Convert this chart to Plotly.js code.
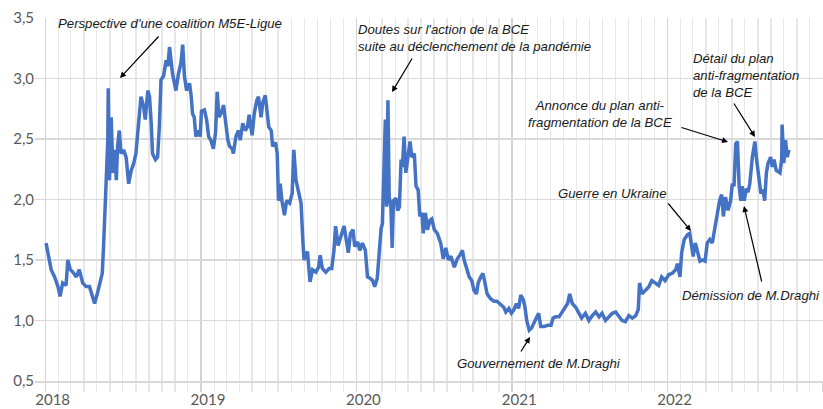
<!DOCTYPE html>
<html>
<head>
<meta charset="utf-8">
<script src="https://cdn.plot.ly/plotly-3.0.1.min.js"></script>
<style>html,body{margin:0;padding:0;background:#fff}#chart{width:823px;height:409px}</style>
</head>
<body>
<div id="chart"></div>
<script>
// Spread values (points de %)
const dates = [
"2018-01-02","2018-01-06","2018-01-14","2018-01-22","2018-01-30","2018-02-04","2018-02-10","2018-02-18","2018-02-22","2018-02-28",
"2018-03-06","2018-03-14","2018-03-21","2018-03-29","2018-04-06","2018-04-14","2018-04-20","2018-04-26","2018-05-03","2018-05-09",
"2018-05-14","2018-05-17","2018-05-20","2018-05-23","2018-05-27","2018-05-28","2018-05-31","2018-06-04","2018-06-08","2018-06-12",
"2018-06-16","2018-06-19","2018-06-23","2018-06-27","2018-07-03","2018-07-09","2018-07-15","2018-07-21","2018-07-27","2018-08-01",
"2018-08-05","2018-08-09","2018-08-13","2018-08-19","2018-08-23","2018-08-29","2018-09-02","2018-09-06","2018-09-09","2018-09-16",
"2018-09-21","2018-09-25","2018-09-29","2018-10-05","2018-10-11","2018-10-15","2018-10-19","2018-10-26","2018-11-03","2018-11-09",
"2018-11-15","2018-11-19","2018-11-23","2018-11-28","2018-12-05","2018-12-09","2018-12-12","2018-12-16","2018-12-20","2018-12-26",
"2018-12-30",
"2019-01-02","2019-01-09","2019-01-14","2019-01-19","2019-01-24","2019-01-30","2019-02-04","2019-02-08","2019-02-12","2019-02-17",
"2019-02-23","2019-02-28","2019-03-05","2019-03-09","2019-03-15","2019-03-18","2019-03-24","2019-03-30","2019-04-03","2019-04-09",
"2019-04-15","2019-04-20","2019-04-24","2019-05-01","2019-05-06","2019-05-12","2019-05-16","2019-05-22","2019-05-26","2019-06-01",
"2019-06-05","2019-06-09","2019-06-15","2019-06-18","2019-06-25","2019-06-29","2019-07-02","2019-07-06","2019-07-10","2019-07-16",
"2019-07-21","2019-07-28","2019-08-03","2019-08-07","2019-08-12","2019-08-18","2019-08-24","2019-08-28","2019-08-31","2019-09-03",
"2019-09-08","2019-09-14","2019-09-20","2019-09-28","2019-10-04","2019-10-08","2019-10-13","2019-10-21","2019-10-29","2019-11-04",
"2019-11-09","2019-11-13","2019-11-19","2019-11-25","2019-12-03","2019-12-08","2019-12-13","2019-12-18","2019-12-24","2019-12-28",
"2020-01-04","2020-01-09","2020-01-15","2020-01-22","2020-01-27","2020-02-02","2020-02-08","2020-02-13","2020-02-19","2020-02-24",
"2020-02-28","2020-03-02","2020-03-06","2020-03-09","2020-03-12","2020-03-15","2020-03-18","2020-03-22","2020-03-25","2020-03-28",
"2020-04-03","2020-04-07","2020-04-11","2020-04-15","2020-04-18","2020-04-22","2020-04-26","2020-04-30","2020-05-06","2020-05-10",
"2020-05-16","2020-05-20","2020-05-25","2020-05-29","2020-06-03","2020-06-06","2020-06-11","2020-06-16","2020-06-22","2020-06-26",
"2020-07-02","2020-07-09","2020-07-17","2020-07-23","2020-07-29","2020-08-04","2020-08-10","2020-08-18","2020-08-25","2020-08-31",
"2020-09-06","2020-09-10","2020-09-15","2020-09-22","2020-09-28","2020-10-03","2020-10-09","2020-10-13","2020-10-19","2020-10-24",
"2020-10-29","2020-11-03","2020-11-11","2020-11-19","2020-11-26","2020-12-04","2020-12-12","2020-12-17","2020-12-24","2020-12-30",
"2021-01-05","2021-01-11","2021-01-16","2021-01-21","2021-01-27","2021-01-31","2021-02-04","2021-02-10","2021-02-16","2021-02-21",
"2021-02-27","2021-03-04","2021-03-09","2021-03-17","2021-03-25","2021-04-02","2021-04-07","2021-04-13","2021-04-21","2021-04-27",
"2021-05-03","2021-05-11","2021-05-16","2021-05-22","2021-05-30","2021-06-07","2021-06-13","2021-06-22","2021-06-30","2021-07-08",
"2021-07-16","2021-07-24","2021-07-31","2021-08-08","2021-08-16","2021-08-24","2021-09-01","2021-09-09","2021-09-16","2021-09-24",
"2021-10-02","2021-10-10","2021-10-18","2021-10-24","2021-10-27","2021-11-02","2021-11-10","2021-11-18","2021-11-25","2021-12-03",
"2021-12-11","2021-12-18","2021-12-26",
"2022-01-04","2022-01-12","2022-01-20","2022-01-24","2022-01-30","2022-02-03","2022-02-09","2022-02-17","2022-02-22","2022-02-27",
"2022-03-02","2022-03-07","2022-03-12","2022-03-18","2022-03-24","2022-03-30","2022-04-04","2022-04-10","2022-04-16","2022-04-22",
"2022-04-28","2022-05-03","2022-05-08","2022-05-12","2022-05-17","2022-05-23","2022-05-29","2022-06-02","2022-06-06","2022-06-10",
"2022-06-14","2022-06-18","2022-06-22","2022-06-25","2022-06-30","2022-07-05","2022-07-09","2022-07-13","2022-07-19","2022-07-25",
"2022-07-29","2022-08-02","2022-08-08","2022-08-13","2022-08-17","2022-08-21","2022-08-25","2022-08-31","2022-09-04","2022-09-08",
"2022-09-13","2022-09-18","2022-09-22","2022-09-26","2022-09-27","2022-10-01","2022-10-05","2022-10-09","2022-10-13"
];
const spread = [
1.64,1.56,1.42,1.36,1.28,1.20,1.31,1.29,1.50,1.42,
1.40,1.36,1.42,1.31,1.28,1.28,1.20,1.14,1.23,1.31,
1.39,1.61,1.89,2.13,2.49,2.92,2.16,2.68,2.22,2.41,
2.16,2.44,2.57,2.38,2.41,2.35,2.13,2.24,2.30,2.38,
2.52,2.68,2.85,2.77,2.66,2.90,2.85,2.63,2.38,2.33,
2.35,2.60,2.99,3.02,3.15,3.10,3.26,3.04,2.90,3.04,
3.13,3.28,3.02,2.90,2.96,2.85,2.71,2.68,2.52,2.57,
2.52,
2.73,2.74,2.66,2.52,2.49,2.42,2.55,2.89,2.68,2.71,
2.78,2.60,2.49,2.44,2.42,2.38,2.52,2.57,2.49,2.63,
2.57,2.60,2.70,2.53,2.71,2.82,2.85,2.68,2.80,2.86,
2.74,2.60,2.57,2.44,2.47,2.38,1.99,2.13,1.99,1.87,
1.99,1.97,2.05,2.41,2.16,2.05,1.97,1.67,1.50,1.53,
1.57,1.32,1.42,1.40,1.44,1.54,1.43,1.40,1.43,1.43,
1.57,1.78,1.62,1.69,1.78,1.67,1.56,1.72,1.75,1.61,
1.65,1.58,1.64,1.58,1.36,1.35,1.33,1.28,1.35,1.58,
1.76,1.80,2.24,2.66,1.94,2.82,2.02,1.94,1.60,1.99,
2.01,1.91,1.94,2.33,2.27,2.52,2.22,2.35,2.48,2.35,
2.38,2.11,2.08,1.86,1.89,1.72,1.89,1.75,1.83,1.84,
1.75,1.72,1.64,1.51,1.60,1.50,1.53,1.44,1.51,1.54,
1.58,1.50,1.44,1.36,1.33,1.25,1.22,1.31,1.36,1.39,
1.31,1.22,1.18,1.16,1.16,1.13,1.11,1.07,1.10,1.06,
1.09,1.14,1.10,1.21,1.17,1.11,1.00,0.92,0.94,0.98,
1.03,1.06,0.95,0.95,0.96,0.96,1.02,1.03,1.03,1.06,
1.09,1.14,1.22,1.14,1.11,1.05,1.02,1.06,1.00,1.04,
1.07,1.03,1.06,1.00,1.03,1.06,1.07,1.03,1.00,0.99,
1.04,1.02,1.04,1.09,1.31,1.22,1.25,1.28,1.33,1.31,
1.29,1.36,1.33,
1.38,1.39,1.42,1.47,1.36,1.56,1.67,1.71,1.72,1.61,
1.53,1.64,1.56,1.49,1.50,1.49,1.64,1.67,1.64,1.78,
1.89,1.99,2.04,1.86,2.02,1.91,1.99,2.13,2.11,2.46,
2.48,2.11,1.99,2.11,1.99,2.09,2.06,2.13,2.35,2.48,
2.33,2.19,2.05,2.08,1.99,2.22,2.30,2.35,2.27,2.33,
2.24,2.23,2.22,2.34,2.62,2.30,2.49,2.35,2.41
];

// Annotation texts
const labels = [
  "Perspective d'une coalition M5E-Ligue",
  "Doutes sur l'action de la BCE<br>suite au déclenchement de la pandémie",
  "Annonce du plan anti-<br>fragmentation de la BCE",
  "Détail du plan<br>anti-fragmentation<br>de la BCE",
  "Guerre en Ukraine",
  "Démission de M.Draghi",
  "Gouvernement de M.Draghi"
];

// Layout geometry (pixels)
const M = {l: 35, r: 0, t: 18, b: 28};
const W = 823 - M.l - M.r, H = 409 - M.t - M.b;
const px = x => (x - M.l) / W;
const py = y => (409 - M.b - y) / H;

const textPos = [
  {x: 57, y: 23, xa: 'left', al: 'left'},
  {x: 357, y: 38, xa: 'left', al: 'left'},
  {x: 600, y: 114, xa: 'center', al: 'center'},
  {x: 692, y: 75, xa: 'left', al: 'left'},
  {x: 557, y: 193, xa: 'left', al: 'left'},
  {x: 681, y: 295, xa: 'left', al: 'left'},
  {x: 456, y: 363, xa: 'left', al: 'left'}
];
const arrows = [
  {hx: 120, hy: 78, tx: 160, ty: 35},
  {hx: 392, hy: 92, tx: 413, ty: 57},
  {hx: 728, hy: 142, tx: 680, ty: 127},
  {hx: 755, hy: 137, tx: 733, ty: 102},
  {hx: 691, hy: 231, tx: 667, ty: 202},
  {hx: 744, hy: 206, tx: 762, ty: 283},
  {hx: 530, hy: 337, tx: 520, ty: 353}
];

const annFont = {family: '"Liberation Sans", Arial, sans-serif', size: 13.2, color: '#1a1a1a', style: 'italic'};
const annotations = [];
labels.forEach((t, i) => {
  const p = textPos[i];
  annotations.push({
    xref: 'paper', yref: 'paper', x: px(p.x), y: py(p.y),
    xanchor: p.xa, yanchor: 'middle', align: p.al, showarrow: false,
    text: '<i>' + t + '</i>', borderpad: 0, font: annFont
  });
});
arrows.forEach(a => {
  annotations.push({
    xref: 'paper', yref: 'paper', x: px(a.hx), y: py(a.hy),
    ax: a.tx - a.hx, ay: a.ty - a.hy, text: '', showarrow: true,
    arrowhead: 2, arrowsize: 1, arrowwidth: 1.2, arrowcolor: '#000', standoff: 0
  });
});

const trace = {
  x: dates, y: spread, type: 'scatter', mode: 'lines',
  line: {color: '#4472C4', width: 3.5}, hoverinfo: 'skip'
};

const layout = {
  width: 823, height: 409, margin: M,
  paper_bgcolor: '#fff', plot_bgcolor: '#fff',
  separators: ', ',
  showlegend: false,
  font: {family: 'Lato, "Open Sans", sans-serif', color: '#595959'},
  xaxis: {
    type: 'date', range: ['2017-12-07', '2023-01-01'],
    tick0: '2018-01-01', dtick: 'M12', tickformat: '%Y',
    showgrid: true, gridcolor: '#d4d4d4', gridwidth: 1.5,
    ticks: 'outside', ticklen: 9, tickcolor: '#d4d4d4', tickwidth: 1.5,
    ticklabelshift: 7, ticklabelstandoff: -5,
    tickfont: {size: 15, color: '#595959'},
    showline: true, linecolor: '#d9d9d9', linewidth: 1.5,
    zeroline: false,
    minor: {dtick: 'M1', tick0: '2018-01-01', showgrid: true, gridcolor: '#e8e8e8', gridwidth: 1.3,
            ticks: 'outside', ticklen: 9, tickcolor: '#e8e8e8', tickwidth: 1.3}
  },
  yaxis: {
    range: [0.5, 3.5], tick0: 0.5, dtick: 0.5, tickformat: '.1f',
    showgrid: true, gridcolor: '#d9d9d9', gridwidth: 1.5,
    zeroline: false, showline: false, ticks: '',
    tickfont: {size: 15, color: '#595959'}
  },
  annotations: annotations
};

Plotly.newPlot('chart', [trace], layout, {staticPlot: true, displayModeBar: false});
</script>
</body>
</html>
